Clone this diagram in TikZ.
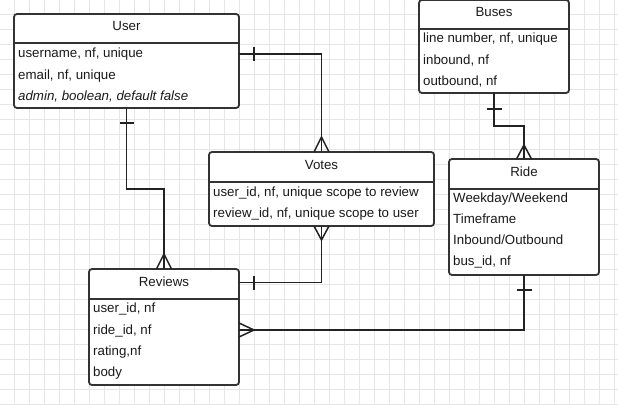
\documentclass[tikz,border=0pt]{standalone}
\usepackage{fontspec}
\setmainfont{Liberation Sans}
\usetikzlibrary{calc}
\definecolor{boxc}{HTML}{333333}
\definecolor{txtc}{HTML}{1A1A1A}
\definecolor{linec}{HTML}{222222}
\definecolor{gridc}{HTML}{E6E6E6}
\begin{document}
\begin{tikzpicture}[x=1pt,y=-1pt,
  entity/.style={draw=boxc, line width=1.8pt, rounded corners=3pt, fill=white, inner sep=0pt, outer sep=0pt},
  etitle/.style={font=\fontsize{13.3}{15}\selectfont, text=txtc, inner sep=0pt, text height=10pt, text depth=2pt},
  erow/.style={font=\fontsize{13.3}{15}\selectfont, text=txtc, anchor=west, inner sep=0pt, text height=10pt, text depth=2pt},
  sepline/.style={draw=boxc, line width=1.8pt},
  conn/.style={draw=linec, line width=1.5pt},
  gridline/.style={draw=gridc, line width=0.8pt},
]
\useasboundingbox (0,0) rectangle (618,404);
\fill[white] (0,0) rectangle (618,404);
\foreach \gx in {14,29,...,614} \draw[gridline] (\gx,0) -- (\gx,404);
\foreach \gy in {14,29,...,404} \draw[gridline] (0,\gy) -- (618,\gy);

% ---------- User ----------
\node[entity, minimum width=225pt, minimum height=94pt] (user) at (126.5,61) {};
\draw[sepline] (user.west |- 0,43) -- (user.east |- 0,43);
\node[etitle] (usert) at (126.5,27) {User};
\node[erow] (user1) at (18,54) {username, nf, unique};
\node[erow] (user2) at (18,75) {email, nf, unique};
\node[erow] (user3) at (18,96) {\itshape admin, boolean, default false};

% ---------- Buses ----------
\node[entity, minimum width=150pt, minimum height=93pt] (buses) at (494,46.5) {};
\draw[sepline] (buses.west |- 0,29) -- (buses.east |- 0,29);
\node[etitle] (busest) at (494,13) {Buses};
\node[erow] (bus1) at (423,38.5) {line number, nf, unique};
\node[erow] (bus2) at (423,60) {inbound, nf};
\node[erow] (bus3) at (423,81) {outbound, nf};

% ---------- Votes ----------
\node[entity, minimum width=225pt, minimum height=74pt] (votes) at (321.5,189) {};
\draw[sepline] (votes.west |- 0,182) -- (votes.east |- 0,182);
\node[etitle] (votest) at (321.5,165.5) {Votes};
\node[erow] (vote1) at (213,192) {user\_id, nf, unique scope to review};
\node[erow] (vote2) at (213,213) {review\_id, nf, unique scope to user};

% ---------- Ride ----------
\node[entity, minimum width=150pt, minimum height=116pt] (ride) at (524,217) {};
\draw[sepline] (ride.west |- 0,189) -- (ride.east |- 0,189);
\node[etitle] (ridet) at (524,172.5) {Ride};
\node[erow] (ride1) at (453,198.5) {Weekday/Weekend};
\node[erow] (ride2) at (453,219.5) {Timeframe};
\node[erow] (ride3) at (453,240.5) {Inbound/Outbound};
\node[erow] (ride4) at (453,261.5) {bus\_id, nf};

% ---------- Reviews ----------
\node[entity, minimum width=150pt, minimum height=116pt] (reviews) at (164,327) {};
\draw[sepline] (reviews.west |- 0,299) -- (reviews.east |- 0,299);
\node[etitle] (reviewst) at (164,282.5) {Reviews};
\node[erow] (rev1) at (93,308.5) {user\_id, nf};
\node[erow] (rev2) at (93,330) {ride\_id, nf};
\node[erow] (rev3) at (93,351) {rating,nf};
\node[erow] (rev4) at (93,372) {body};

% ---------- connector points ----------
\coordinate (uvA) at (user.east |- user1);
\coordinate (urA) at (user.south);
\coordinate (urB) at ($(user.south)+(0,81)$);
\coordinate (brA) at (buses.south);
\coordinate (brB) at ($(buses.south)+(0,33)$);
\coordinate (rrA) at (ride.south);
\coordinate (rrB) at (reviews.east |- rev2);
\coordinate (vrA) at (votes.south);
\coordinate (vrB) at (reviews.east |- reviewst);

% User -> Votes
\draw[conn] (uvA) -| (votes.north);
\draw[conn] ($(uvA)+(15,-7)$) -- ($(uvA)+(15,7)$);
\draw[conn] ($(votes.north)+(-7.5,0)$) -- ($(votes.north)+(0,-15)$) -- ($(votes.north)+(7.5,0)$);

% User -> Reviews
\draw[conn] (urA) -- (urB) -| (reviews.north);
\draw[conn] ($(urA)+(-7,15)$) -- ($(urA)+(7,15)$);
\draw[conn] ($(reviews.north)+(-7.5,0)$) -- ($(reviews.north)+(0,-15)$) -- ($(reviews.north)+(7.5,0)$);

% Buses -> Ride
\draw[conn] (brA) -- (brB) -| (ride.north);
\draw[conn] ($(brA)+(-7.5,16)$) -- ($(brA)+(7.5,16)$);
\draw[conn] ($(ride.north)+(-7.5,0)$) -- ($(ride.north)+(0,-14)$) -- ($(ride.north)+(7.5,0)$);

% Ride -> Reviews
\draw[conn] (rrA) |- (rrB);
\draw[conn] ($(rrA)+(-7.5,15)$) -- ($(rrA)+(7.5,15)$);
\draw[conn] ($(rrB)+(0,-7)$) -- ($(rrB)+(15,0)$) -- ($(rrB)+(0,7)$);

% Votes -> Reviews
\draw[conn] (vrA) |- (vrB);
\draw[conn] ($(vrA)+(-7.5,0)$) -- ($(vrA)+(0,14)$) -- ($(vrA)+(7.5,0)$);
\draw[conn] ($(vrB)+(15,-7)$) -- ($(vrB)+(15,7)$);
\end{tikzpicture}
\end{document}
